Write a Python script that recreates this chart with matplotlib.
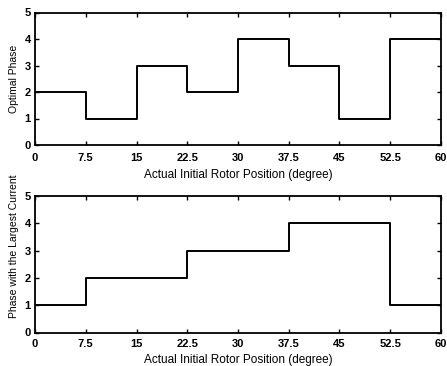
import matplotlib
matplotlib.use('Agg')
import matplotlib.pyplot as plt
import numpy as np

# segment edges (degrees) and phase value on each segment
edges = [0, 7.5, 15, 22.5, 30, 37.5, 45, 52.5, 60]
optimal_phase = [2, 1, 3, 2, 4, 3, 1, 4]
largest_current_phase = [1, 2, 2, 3, 3, 4, 4, 1]

xticks = [0, 7.5, 15, 22.5, 30, 37.5, 45, 52.5, 60]
xticklabels = ['0', '7.5', '15', '22.5', '30', '37.5', '45', '52.5', '60']
yticks = [0, 1, 2, 3, 4, 5]

plt.rcParams['font.family'] = ['Liberation Sans', 'DejaVu Sans']
plt.rcParams['font.size'] = 7

fig = plt.figure(figsize=(4.47, 3.66), dpi=100, facecolor='white')


def draw_steps(ax, vals, ylabel, ylab_y, xpad):
    y = list(vals) + [vals[-1]]
    ax.plot(edges, y, drawstyle='steps-post', color='black', lw=1.4)
    ax.set_xlim(0, 60)
    ax.set_ylim(0, 5)
    ax.set_xticks(xticks)
    ax.set_xticklabels(xticklabels, fontweight='bold', fontsize=8)
    ax.set_yticks(yticks)
    ax.set_yticklabels([str(v) for v in yticks], fontweight='bold', fontsize=8)
    ax.tick_params(direction='in', top=True, right=True, length=3, width=1)
    ax.tick_params(axis='x', pad=xpad)
    ax.tick_params(axis='y', pad=3)
    for s in ax.spines.values():
        s.set_linewidth(1.3)
    ax.set_xlabel('Actual Initial Rotor Position (degree)', fontsize=8.5, labelpad=4)
    ax.set_ylabel(ylabel, fontsize=7.5)
    ax.yaxis.set_label_coords(-0.04, ylab_y)


ax1 = fig.add_axes([35 / 447, 1 - 145 / 366, 406 / 447, 132.5 / 366])
draw_steps(ax1, optimal_phase, 'Optimal Phase', 0.5, 6)

ax2 = fig.add_axes([35 / 447, 1 - 332.5 / 366, 406 / 447, 136.5 / 366])
draw_steps(ax2, largest_current_phase, 'Phase with the Largest Current', 0.63, 4.5)

fig.savefig('out.png', dpi=100)
